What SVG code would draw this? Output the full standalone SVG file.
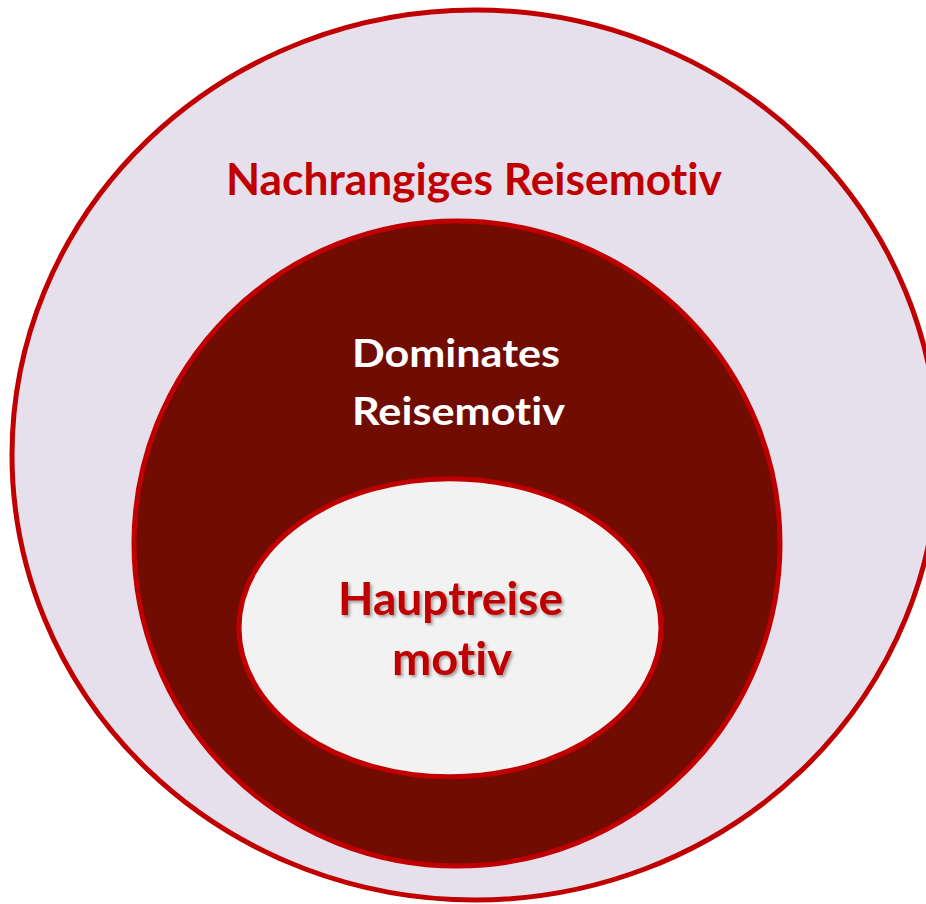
<svg xmlns="http://www.w3.org/2000/svg" width="926" height="904" viewBox="0 0 926 904">
  <defs>
    <style>
      .ring { stroke: #C00000; stroke-width: 5; }
      .lbl { font-family: Lato, "Open Sans", "Liberation Sans", sans-serif; font-weight: bold; text-anchor: middle; font-variant-ligatures: none; }
      .red { fill: #C00000; }
      .white { fill: #FFFFFF; }
    </style>
    <filter id="shadow" x="-10%" y="-20%" width="120%" height="150%">
      <feDropShadow dx="2" dy="2" stdDeviation="1.5" flood-color="#000000" flood-opacity="0.35"/>
    </filter>
  </defs>
  <rect width="926" height="904" fill="#FFFFFF"/>
  <g id="outer">
    <ellipse class="ring" cx="475" cy="455" rx="463" ry="445" fill="#E6E0EC"/>
    <text class="lbl red" x="474" y="195" font-size="43" textLength="496" lengthAdjust="spacingAndGlyphs">Nachrangiges Reisemotiv</text>
  </g>
  <g id="middle">
    <ellipse class="ring" cx="457" cy="543.5" rx="323" ry="322.5" fill="#700C02"/>
    <text class="lbl white" x="456" y="367" font-size="39" textLength="208" lengthAdjust="spacingAndGlyphs">Dominates</text>
    <text class="lbl white" x="458.5" y="425" font-size="39" textLength="213" lengthAdjust="spacingAndGlyphs">Reisemotiv</text>
  </g>
  <g id="inner">
    <ellipse class="ring" cx="450" cy="627.75" rx="211" ry="149" fill="#F2F2F2"/>
    <g filter="url(#shadow)">
      <text class="lbl red" x="450.5" y="615" font-size="45" textLength="225" lengthAdjust="spacingAndGlyphs">Hauptreise</text>
      <text class="lbl red" x="452" y="675" font-size="45" textLength="120" lengthAdjust="spacingAndGlyphs">motiv</text>
    </g>
  </g>
  <g id="connectors"/>
</svg>
